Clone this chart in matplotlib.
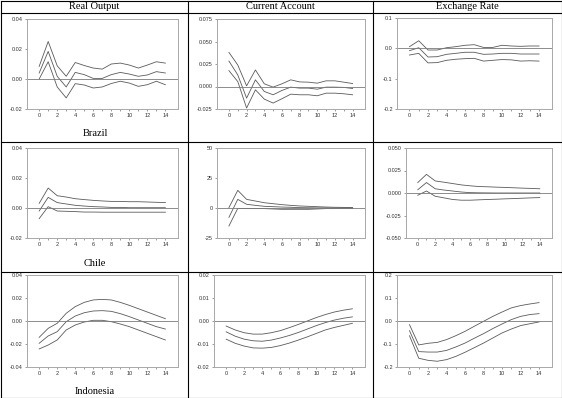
import numpy as np
import matplotlib
matplotlib.use("Agg")
import matplotlib.pyplot as plt
from matplotlib.lines import Line2D

W, H = 562, 398

horizon = list(range(15))
col_titles = ["Real Output", "Current Account", "Exchange Rate"]
row_labels = ["Brazil", "Chile", "Indonesia"]

# Brazil
br_out_up = [0.0084, 0.0250, 0.0088, 0.0018, 0.0110, 0.0090, 0.0073, 0.0066, 0.0100, 0.0106, 0.0093, 0.0073, 0.0093, 0.0115, 0.0106]
br_out_mid = [0.0040, 0.0184, 0.0018, -0.0053, 0.0044, 0.0029, 0.0004, 0.0004, 0.0029, 0.0044, 0.0033, 0.0018, 0.0027, 0.0049, 0.0040]
br_out_lo = [0.0000, 0.0115, -0.0053, -0.0126, -0.0031, -0.0040, -0.0060, -0.0053, -0.0030, -0.0015, -0.0027, -0.0049, -0.0038, -0.0015, -0.0038]

br_ca_up = [0.0379, 0.0239, 0.0007, 0.0184, 0.0030, -0.0007, 0.0030, 0.0074, 0.0051, 0.0048, 0.0037, 0.0063, 0.0063, 0.0048, 0.0033]
br_ca_mid = [0.0283, 0.0129, -0.0129, 0.0074, -0.0055, -0.0092, -0.0044, -0.0007, -0.0018, -0.0018, -0.0030, -0.0007, -0.0007, -0.0010, -0.0022]
br_ca_lo = [0.0176, 0.0055, -0.0239, -0.0037, -0.0140, -0.0184, -0.0136, -0.0085, -0.0092, -0.0092, -0.0103, -0.0074, -0.0074, -0.0081, -0.0092]

br_er_up = [0.0055, 0.0250, -0.0055, -0.0055, 0.0020, 0.0055, 0.0100, 0.0120, 0.0030, 0.0030, 0.0100, 0.0077, 0.0066, 0.0077, 0.0077]
br_er_mid = [-0.0077, 0.0020, -0.0286, -0.0275, -0.0198, -0.0165, -0.0130, -0.0130, -0.0198, -0.0187, -0.0165, -0.0165, -0.0187, -0.0187, -0.0187]
br_er_lo = [-0.0220, -0.0165, -0.0480, -0.0470, -0.0395, -0.0360, -0.0340, -0.0330, -0.0420, -0.0395, -0.0370, -0.0380, -0.0420, -0.0410, -0.0420]

# Chile
cl_out_up = [0.0031, 0.0133, 0.0082, 0.0073, 0.0062, 0.0056, 0.0051, 0.0047, 0.0044, 0.0044, 0.0042, 0.0042, 0.0040, 0.0038, 0.0036]
cl_out_mid = [-0.0020, 0.0071, 0.0036, 0.0027, 0.0018, 0.0013, 0.0009, 0.0007, 0.0004, 0.0004, 0.0002, 0.0002, 0.0002, 0.0002, 0.0002]
cl_out_lo = [-0.0071, 0.0009, -0.0020, -0.0022, -0.0024, -0.0027, -0.0027, -0.0028, -0.0028, -0.0028, -0.0028, -0.0028, -0.0028, -0.0028, -0.0028]

cl_ca_up = [0.3, 14.7, 7.2, 5.8, 4.4, 3.6, 2.8, 2.2, 1.7, 1.4, 1.1, 0.8, 0.6, 0.5, 0.3]
cl_ca_mid = [-7.8, 7.2, 3.1, 2.2, 1.4, 1.1, 0.8, 0.6, 0.3, 0.2, 0.1, 0.1, 0.0, 0.0, 0.0]
cl_ca_lo = [-15.0, -0.3, -0.5, -0.5, -0.5, -0.8, -1.1, -1.1, -1.1, -1.1, -0.8, -0.5, -0.5, -0.3, -0.3]

cl_er_up = [0.0116, 0.0207, 0.0134, 0.0120, 0.0105, 0.0090, 0.0080, 0.0072, 0.0069, 0.0065, 0.0062, 0.0058, 0.0054, 0.0051, 0.0047]
cl_er_mid = [0.0036, 0.0116, 0.0047, 0.0033, 0.0022, 0.0011, 0.0004, 0.0002, 0.0001, 0.0000, 0.0000, 0.0000, 0.0000, 0.0000, 0.0000]
cl_er_lo = [-0.0025, 0.0022, -0.0036, -0.0054, -0.0072, -0.0080, -0.0080, -0.0076, -0.0072, -0.0069, -0.0065, -0.0062, -0.0058, -0.0054, -0.0051]

# Indonesia
id_out_up = [-0.0142, -0.0064, -0.0020, 0.0067, 0.0125, 0.0162, 0.0183, 0.0188, 0.0183, 0.0162, 0.0136, 0.0107, 0.0078, 0.0049, 0.0020]
id_out_mid = [-0.0194, -0.0130, -0.0093, -0.0006, 0.0043, 0.0072, 0.0087, 0.0090, 0.0084, 0.0064, 0.0038, 0.0009, -0.0020, -0.0049, -0.0070]
id_out_lo = [-0.0243, -0.0209, -0.0165, -0.0078, -0.0035, -0.0009, 0.0006, 0.0006, -0.0006, -0.0026, -0.0049, -0.0078, -0.0107, -0.0136, -0.0165]

id_ca_up = [-0.0022, -0.0039, -0.0051, -0.0057, -0.0057, -0.0051, -0.0042, -0.0029, -0.0015, 0.0000, 0.0015, 0.0028, 0.0039, 0.0047, 0.0053]
id_ca_mid = [-0.0047, -0.0066, -0.0079, -0.0086, -0.0088, -0.0083, -0.0074, -0.0063, -0.0050, -0.0035, -0.0020, -0.0007, 0.0004, 0.0012, 0.0018]
id_ca_lo = [-0.0079, -0.0097, -0.0109, -0.0117, -0.0118, -0.0115, -0.0107, -0.0096, -0.0083, -0.0069, -0.0054, -0.0039, -0.0028, -0.0019, -0.0010]

id_er_up = [-0.016, -0.104, -0.097, -0.093, -0.081, -0.064, -0.045, -0.023, -0.0015, 0.020, 0.039, 0.057, 0.067, 0.074, 0.080]
id_er_mid = [-0.042, -0.133, -0.135, -0.135, -0.128, -0.113, -0.096, -0.075, -0.055, -0.033, -0.013, 0.006, 0.020, 0.028, 0.032]
id_er_lo = [-0.064, -0.162, -0.171, -0.175, -0.168, -0.154, -0.136, -0.116, -0.096, -0.074, -0.052, -0.035, -0.020, -0.012, -0.004]

# y ticks for each panel
yt_br = [[-0.02, 0.0, 0.02, 0.04], [-0.025, 0.0, 0.025, 0.05, 0.075], [-0.2, -0.1, 0.0, 0.1]]
yt_cl = [[-0.02, 0.0, 0.02, 0.04], [-25, 0, 25, 50], [-0.05, -0.025, 0.0, 0.025, 0.05]]
yt_id = [[-0.04, -0.02, 0.0, 0.02, 0.04], [-0.02, -0.01, 0.0, 0.01, 0.02], [-0.2, -0.1, 0.0, 0.1, 0.2]]
yfmt_br = ["%.2f", "%.3f", "%.1f"]
yfmt_cl = ["%.2f", "%d", "%.3f"]
yfmt_id = ["%.2f", "%.2f", "%.1f"]

panels = [
    [(br_out_up, br_out_mid, br_out_lo), (br_ca_up, br_ca_mid, br_ca_lo), (br_er_up, br_er_mid, br_er_lo)],
    [(cl_out_up, cl_out_mid, cl_out_lo), (cl_ca_up, cl_ca_mid, cl_ca_lo), (cl_er_up, cl_er_mid, cl_er_lo)],
    [(id_out_up, id_out_mid, id_out_lo), (id_ca_up, id_ca_mid, id_ca_lo), (id_er_up, id_er_mid, id_er_lo)],
]
yticks = [yt_br, yt_cl, yt_id]
yfmts = [yfmt_br, yfmt_cl, yfmt_id]

# pixel boxes (left, top, right, bottom) of every panel
boxes = [
    [(27, 19, 178, 109), (217, 19, 365, 109), (397, 18, 552, 109)],
    [(27, 148, 178, 238), (217, 148, 365, 238), (406, 148, 552, 238)],
    [(27, 275, 178, 367), (214, 275, 365, 367), (397, 275, 552, 367)],
]

fig = plt.figure(figsize=(W / 100, H / 100), dpi=100)
fig.patch.set_facecolor("white")

frame_col = "#a8a8a8"
line_col = "#5a5a5a"

for r in range(3):
    for c in range(3):
        l, t, rr, b = boxes[r][c]
        ax = fig.add_axes([l / W, 1 - b / H, (rr - l) / W, (b - t) / H])
        up, mid, lo = panels[r][c]
        for s in (up, mid, lo):
            ax.plot(horizon, s, color=line_col, linewidth=0.6)
        ax.axhline(0, color="#7a7a7a", linewidth=0.6)
        ax.set_xlim(-1.35, 15.4)
        yt = yticks[r][c]
        ax.set_ylim(yt[0], yt[-1])
        ax.set_yticks(yt)
        ax.set_yticklabels([yfmts[r][c] % v for v in yt])
        ax.set_xticks(range(0, 15, 2))
        ax.set_xticks(range(15), minor=True)
        for sp in ax.spines.values():
            sp.set_color(frame_col)
            sp.set_linewidth(0.7)
        ax.tick_params(axis="both", which="both", direction="out", length=1.5,
                       width=0.5, color="#777777", labelsize=4, pad=1.5,
                       labelcolor="#333333")
        for lab in ax.get_xticklabels() + ax.get_yticklabels():
            lab.set_fontfamily("Liberation Sans")

# table lines
def hline(y, x0=0.5, x1=W - 0.5):
    fig.add_artist(Line2D([x0 / W, x1 / W], [1 - y / H, 1 - y / H], color="black", linewidth=0.8))

def vline(x, y0=0.5, y1=H - 0.5):
    fig.add_artist(Line2D([x / W, x / W], [1 - y0 / H, 1 - y1 / H], color="black", linewidth=0.8))

for y in (0.5, 13, 142, 272, H - 0.5):
    hline(y)
for x in (0.5, 187.5, 373, W - 0.5):
    vline(x)

col_centers = [94, 280, 467]
for x, txt in zip(col_centers, col_titles):
    fig.text(x / W, 1 - 6.8 / H, txt, ha="center", va="center",
             fontsize=7.5, family="Liberation Serif")

label_y = [133.5, 263, 391]
for y, txt in zip(label_y, row_labels):
    fig.text(95 / W, 1 - y / H, txt, ha="center", va="center",
             fontsize=7.5, family="Liberation Serif")

fig.savefig("out.png", dpi=100)
